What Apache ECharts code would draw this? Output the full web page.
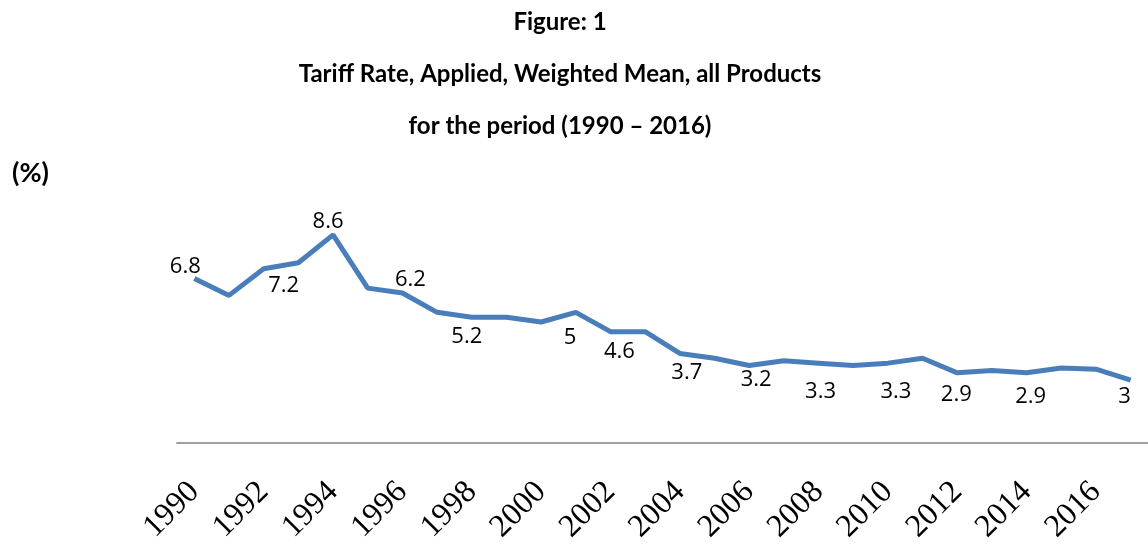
<!DOCTYPE html>
<html>
<head>
<meta charset="utf-8">
<script src="https://cdn.jsdelivr.net/npm/echarts@6/dist/echarts.min.js"></script>
<style>
    html, body { margin: 0; padding: 0; background: #fff; }
    #chart { width: 1148px; height: 547px; }
</style>
</head>
<body>
<div id="chart"></div>
<script>
// data
const years = ['1990', '1991', '1992', '1993', '1994', '1995', '1996', '1997', '1998', '1999',
    '2000', '2001', '2002', '2003', '2004', '2005', '2006', '2007', '2008', '2009',
    '2010', '2011', '2012', '2013', '2014', '2015', '2016', '2017'];
const tariff = [6.8, 6.1, 7.2, 7.45, 8.6, 6.4, 6.2, 5.4, 5.2, 5.2,
    5.0, 5.4, 4.6, 4.6, 3.7, 3.5, 3.2, 3.4, 3.3, 3.2,
    3.3, 3.5, 2.9, 3.0, 2.9, 3.1, 3.05, 2.6];
// text of the data labels as printed ('' = no label)
const labelText = ['6.8', '', '7.2', '', '8.6', '', '6.2', '', '5.2', '',
    '5', '', '4.6', '', '3.7', '', '3.2', '', '3.3', '',
    '3.3', '', '2.9', '', '2.9', '', '', '3'];
const titleLines = ['Figure: 1', 'Tariff Rate, Applied, Weighted Mean, all Products', 'for the period (1990 \u2013 2016)'];

// where each label sits relative to its point (px)
const labelShift = {
    '1990': [-9, -12], '1992': [20, 17], '1994': [-5, -13], '1996': [8, -13],
    '1998': [-5, 20], '2000': [29, 16], '2002': [9, 20], '2004': [7, 19],
    '2006': [7, 14], '2008': [2, 29], '2010': [8, 29], '2012': [-1, 22],
    '2014': [4, 24], '2017': [-6, 17]
};

const lineColor = '#4A7EBB';

const points = tariff.map((v, i) => {
    const txt = labelText[i];
    return {
        value: v,
        label: {
            show: txt !== '',
            position: 'inside',
            offset: labelShift[years[i]] || [0, 0],
            formatter: () => txt
        }
    };
});

const chart = echarts.init(document.getElementById('chart'));
chart.setOption({
    animation: false,
    title: titleLines.map((t, i) => ({
        text: t,
        left: 555,
        top: 5 + i * 52,
        textAlign: 'center',
        textStyle: { fontFamily: 'Lato', fontWeight: 'bold', fontSize: 24, color: '#000' }
    })),
    graphic: [{
        type: 'text',
        left: 12,
        top: 160,
        style: { text: '(%)', fontFamily: 'Lato', fontWeight: 'bold', fontSize: 27, fill: '#000' }
    }],
    grid: { left: 177, top: 201, width: 979, height: 242 },
    xAxis: {
        type: 'category',
        data: years,
        boundaryGap: true,
        axisLine: { lineStyle: { color: '#A0A0A0', width: 2 } },
        axisTick: { show: false },
        axisLabel: {
            interval: 1,
            rotate: 45,
            margin: 44,
            fontFamily: 'Liberation Serif',
            fontSize: 32,
            color: '#000'
        }
    },
    yAxis: {
        type: 'value',
        min: 0,
        max: 10,
        show: false,
        splitLine: { show: false }
    },
    series: [{
        type: 'line',
        data: points,
        symbol: 'circle',
        symbolSize: 0.1,
        itemStyle: { color: lineColor },
        lineStyle: { color: lineColor, width: 5 },
        label: { fontFamily: 'Open Sans', fontSize: 22, color: '#000' }
    }]
});
</script>
</body>
</html>
